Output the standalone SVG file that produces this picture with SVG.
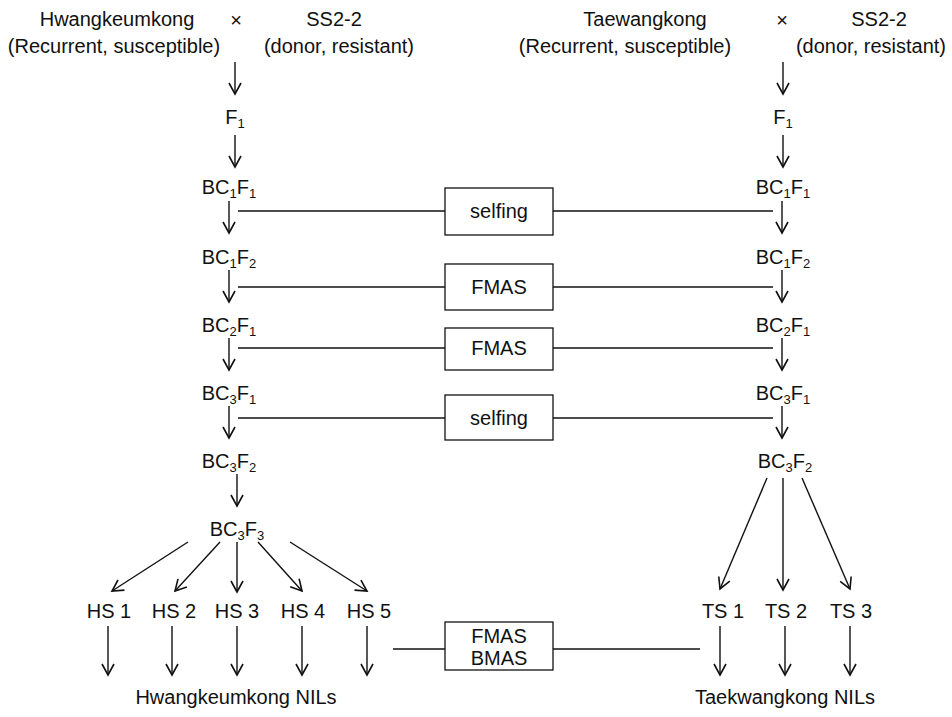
<svg xmlns="http://www.w3.org/2000/svg" width="952" height="717" viewBox="0 0 952 717">
<style>
text{font-family:"Liberation Sans",Arial,sans-serif;font-size:20px;fill:#111;}
.m{text-anchor:middle;}
.s{font-size:13px;}
.ln{stroke:#111;stroke-width:1.4;fill:none;}
.ar{stroke:#111;stroke-width:1.4;fill:none;marker-end:url(#ah);}
.bx{stroke:#111;stroke-width:1.3;fill:#fff;}
</style>
<defs>
<marker id="ah" viewBox="-12 -7 14 14" refX="0" refY="0" markerWidth="14" markerHeight="14" markerUnits="userSpaceOnUse" orient="auto">
<path d="M-11,-6 L0,0 L-11,6" fill="none" stroke="#111" stroke-width="1.6"/>
</marker>
</defs>
<rect width="952" height="717" fill="#fff"/>

<g id="parentsL">
<text class="m" x="117" y="26">Hwangkeumkong</text>
<text class="m" x="114" y="53">(Recurrent, susceptible)</text>
<text class="m" x="236" y="27">×</text>
<text class="m" x="334" y="26">SS2-2</text>
<text class="m" x="339" y="53">(donor, resistant)</text>
</g>
<g id="parentsR">
<text class="m" x="645" y="26">Taewangkong</text>
<text class="m" x="625" y="53">(Recurrent, susceptible)</text>
<text class="m" x="782" y="27">×</text>
<text class="m" x="879" y="26">SS2-2</text>
<text class="m" x="871" y="53">(donor, resistant)</text>
</g>

<g id="F1L"><text class="m" x="235" y="124">F<tspan class="s" dy="4">1</tspan></text></g>
<g id="BC1F1L"><text class="m" x="229" y="194">BC<tspan class="s" dy="4">1</tspan><tspan dy="-4">F</tspan><tspan class="s" dy="4">1</tspan></text></g>
<g id="BC1F2L"><text class="m" x="229" y="264">BC<tspan class="s" dy="4">1</tspan><tspan dy="-4">F</tspan><tspan class="s" dy="4">2</tspan></text></g>
<g id="BC2F1L"><text class="m" x="229" y="332">BC<tspan class="s" dy="4">2</tspan><tspan dy="-4">F</tspan><tspan class="s" dy="4">1</tspan></text></g>
<g id="BC3F1L"><text class="m" x="229" y="400">BC<tspan class="s" dy="4">3</tspan><tspan dy="-4">F</tspan><tspan class="s" dy="4">1</tspan></text></g>
<g id="BC3F2L"><text class="m" x="229" y="468">BC<tspan class="s" dy="4">3</tspan><tspan dy="-4">F</tspan><tspan class="s" dy="4">2</tspan></text></g>
<g id="BC3F3L"><text class="m" x="237" y="536">BC<tspan class="s" dy="4">3</tspan><tspan dy="-4">F</tspan><tspan class="s" dy="4">3</tspan></text></g>

<g id="F1R"><text class="m" x="783" y="124">F<tspan class="s" dy="4">1</tspan></text></g>
<g id="BC1F1R"><text class="m" x="783" y="194">BC<tspan class="s" dy="4">1</tspan><tspan dy="-4">F</tspan><tspan class="s" dy="4">1</tspan></text></g>
<g id="BC1F2R"><text class="m" x="783" y="264">BC<tspan class="s" dy="4">1</tspan><tspan dy="-4">F</tspan><tspan class="s" dy="4">2</tspan></text></g>
<g id="BC2F1R"><text class="m" x="783" y="332">BC<tspan class="s" dy="4">2</tspan><tspan dy="-4">F</tspan><tspan class="s" dy="4">1</tspan></text></g>
<g id="BC3F1R"><text class="m" x="783" y="400">BC<tspan class="s" dy="4">3</tspan><tspan dy="-4">F</tspan><tspan class="s" dy="4">1</tspan></text></g>
<g id="BC3F2R"><text class="m" x="785" y="468">BC<tspan class="s" dy="4">3</tspan><tspan dy="-4">F</tspan><tspan class="s" dy="4">2</tspan></text></g>

<g id="HS1"><text class="m" x="109" y="618">HS 1</text></g>
<g id="HS2"><text class="m" x="174" y="618">HS 2</text></g>
<g id="HS3"><text class="m" x="237" y="618">HS 3</text></g>
<g id="HS4"><text class="m" x="303" y="618">HS 4</text></g>
<g id="HS5"><text class="m" x="369" y="618">HS 5</text></g>
<g id="TS1"><text class="m" x="723" y="618">TS 1</text></g>
<g id="TS2"><text class="m" x="786" y="618">TS 2</text></g>
<g id="TS3"><text class="m" x="851" y="618">TS 3</text></g>

<g id="NILsL"><text class="m" x="236" y="704">Hwangkeumkong NILs</text></g>
<g id="NILsR"><text class="m" x="785" y="704">Taekwangkong NILs</text></g>

<g id="box1"><rect class="bx" x="445" y="188" width="108" height="47"/><text class="m" x="499" y="218">selfing</text></g>
<g id="box2"><rect class="bx" x="445" y="264" width="108" height="46"/><text class="m" x="499" y="294">FMAS</text></g>
<g id="box3"><rect class="bx" x="445" y="328" width="108" height="42"/><text class="m" x="499" y="355">FMAS</text></g>
<g id="box4"><rect class="bx" x="445" y="395" width="108" height="45"/><text class="m" x="499" y="425">selfing</text></g>
<g id="box5"><rect class="bx" x="445" y="622" width="108" height="48"/><text class="m" x="499" y="643">FMAS</text><text class="m" x="499" y="665">BMAS</text></g>

<g id="connectors">
<line class="ar" x1="235" y1="62" x2="235" y2="94"/>
<line class="ar" x1="235" y1="135" x2="235" y2="167"/>
<line class="ar" x1="229" y1="201" x2="229" y2="233"/>
<line class="ar" x1="229" y1="270" x2="229" y2="302"/>
<line class="ar" x1="229" y1="338" x2="229" y2="370"/>
<line class="ar" x1="229" y1="406" x2="229" y2="438"/>
<line class="ar" x1="237" y1="474" x2="237" y2="506"/>

<line class="ar" x1="783" y1="62" x2="783" y2="94"/>
<line class="ar" x1="783" y1="135" x2="783" y2="167"/>
<line class="ar" x1="782" y1="201" x2="782" y2="233"/>
<line class="ar" x1="782" y1="270" x2="782" y2="302"/>
<line class="ar" x1="782" y1="338" x2="782" y2="370"/>
<line class="ar" x1="782" y1="406" x2="782" y2="438"/>

<line class="ln" x1="238" y1="211" x2="445" y2="211"/>
<line class="ln" x1="553" y1="211" x2="773" y2="211"/>
<line class="ln" x1="238" y1="287" x2="445" y2="287"/>
<line class="ln" x1="553" y1="287" x2="773" y2="287"/>
<line class="ln" x1="238" y1="348" x2="445" y2="348"/>
<line class="ln" x1="553" y1="348" x2="773" y2="348"/>
<line class="ln" x1="238" y1="418" x2="445" y2="418"/>
<line class="ln" x1="553" y1="418" x2="773" y2="418"/>
<line class="ln" x1="393" y1="649" x2="445" y2="649"/>
<line class="ln" x1="553" y1="649" x2="700" y2="649"/>

<line class="ar" x1="188" y1="542" x2="112" y2="591"/>
<line class="ar" x1="220" y1="542" x2="175" y2="591"/>
<line class="ar" x1="237" y1="542" x2="237" y2="592"/>
<line class="ar" x1="258" y1="542" x2="302" y2="591"/>
<line class="ar" x1="290" y1="542" x2="367" y2="591"/>

<line class="ar" x1="767" y1="478" x2="720" y2="589"/>
<line class="ar" x1="783" y1="478" x2="783" y2="590"/>
<line class="ar" x1="802" y1="478" x2="850" y2="589"/>

<line class="ar" x1="108" y1="626" x2="108" y2="675"/>
<line class="ar" x1="172" y1="626" x2="172" y2="675"/>
<line class="ar" x1="237" y1="626" x2="237" y2="675"/>
<line class="ar" x1="302" y1="626" x2="302" y2="675"/>
<line class="ar" x1="367" y1="626" x2="367" y2="675"/>
<line class="ar" x1="720" y1="626" x2="720" y2="675"/>
<line class="ar" x1="785" y1="626" x2="785" y2="675"/>
<line class="ar" x1="850" y1="626" x2="850" y2="675"/>
</g>
</svg>
